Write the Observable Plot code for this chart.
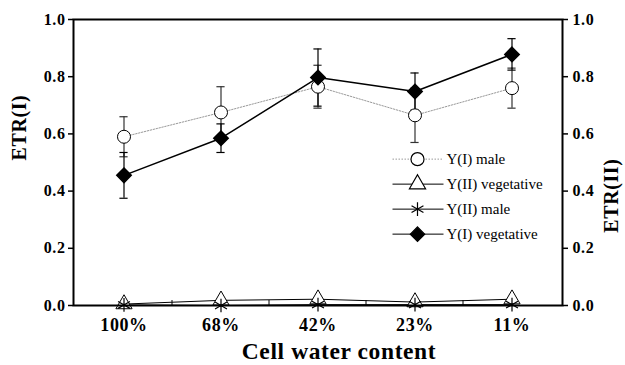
<!DOCTYPE html>
<html><head><meta charset="utf-8">
<script src="https://cdn.jsdelivr.net/npm/d3@7"></script>
<script src="https://cdn.jsdelivr.net/npm/@observablehq/plot@0.6"></script>
<style>body{margin:0;background:#fff}</style>
</head><body><div id="chart"></div>
<script>
const categories = ["100%", "68%", "42%", "23%", "11%"];
const yIMale = [0.59, 0.675, 0.765, 0.665, 0.76];
const yIMaleErr = [0.07, 0.09, 0.075, 0.095, 0.07];
const yIVeg = [0.455, 0.585, 0.797, 0.748, 0.878];
const yIVegErr = [0.08, 0.05, 0.10, 0.065, 0.055];
const yIIVeg = [0.005, 0.018, 0.022, 0.012, 0.022];
const yIIMale = [0.002, 0.0, 0.003, 0.003, 0.003];
const yTicks = [0, 0.2, 0.4, 0.6, 0.8, 1.0];
const legendNames = ["Y(I) male", "Y(II) vegetative", "Y(II) male", "Y(I) vegetative"];

const rows = (vals, errs) => categories.map((c, i) => ({cat: c, y: vals[i], err: errs ? errs[i] : 0}));
const male = rows(yIMale, yIMaleErr);
const veg = rows(yIVeg, yIVegErr);
const iiVeg = rows(yIIVeg);
const iiMale = rows(yIIMale);

const font = "'Liberation Serif', 'Times New Roman', Times, serif";
const capInset = 44.4;
const errMarks = (data, stroke) => [
  Plot.ruleX(data, {x: "cat", y1: d => d.y - d.err, y2: d => d.y + d.err, stroke, strokeWidth: 1.2}),
  Plot.tickY(data, {x: "cat", y: d => d.y + d.err, stroke, strokeWidth: 1.2, insetLeft: capInset, insetRight: capInset}),
  Plot.tickY(data, {x: "cat", y: d => d.y - d.err, stroke, strokeWidth: 1.2, insetLeft: capInset, insetRight: capInset})
];
const tf = {fontFamily: font, fontWeight: "bold"};

const plot = Plot.plot({
  width: 625,
  height: 365,
  marginLeft: 73,
  marginRight: 63,
  marginTop: 19,
  marginBottom: 60,
  style: {fontFamily: font, background: "#fff", color: "#000"},
  x: {type: "band", domain: categories, padding: 0},
  y: {domain: [0, 1]},
  marks: [
    ...errMarks(male, "#333"),
    ...errMarks(veg, "#000"),
    Plot.line(male, {x: "cat", y: "y", stroke: "#999", strokeWidth: 1, strokeDasharray: "1.5,1.5"}),
    Plot.line(veg, {x: "cat", y: "y", stroke: "#000", strokeWidth: 1.5}),
    Plot.line(iiVeg, {x: "cat", y: "y", stroke: "#000", strokeWidth: 1}),
    Plot.line(iiMale, {x: "cat", y: "y", stroke: "#000", strokeWidth: 1}),
    Plot.dot(iiVeg, {x: "cat", y: "y", symbol: "triangle", r: 6, fill: "#fff", stroke: "#000", strokeWidth: 1}),
    Plot.dot(iiMale, {x: "cat", y: "y", symbol: "asterisk", r: 6.5, stroke: "#000", strokeWidth: 1.2}),
    Plot.dot(male, {x: "cat", y: "y", symbol: "circle", r: 6.5, fill: "#fff", stroke: "#000", strokeWidth: 1}),
    Plot.dot(veg, {x: "cat", y: "y", symbol: "diamond2", r: 6.5, fill: "#000", stroke: "#000"}),
    Plot.frame({stroke: "#000", strokeWidth: 2}),
    Plot.axisY({anchor: "left", ticks: yTicks, tickFormat: ".1f", tickSize: 5, tickPadding: 3, label: null, fontSize: 16, ...tf, strokeWidth: 1.5}),
    Plot.axisY({anchor: "right", ticks: yTicks, tickFormat: ".1f", tickSize: 5, tickPadding: 5, label: null, fontSize: 16, ...tf, strokeWidth: 1.5}),
    Plot.axisX({tickSize: 0, tickPadding: 13, label: null, fontSize: 18, ...tf}),
    Plot.text(["Cell water content"], {frameAnchor: "bottom", dx: 21, dy: 45.5, lineAnchor: "middle", fontSize: 23.5, ...tf}),
    Plot.text(["ETR(I)"], {frameAnchor: "left", dx: -54, dy: -2, rotate: -90, lineAnchor: "middle", fontSize: 20, ...tf}),
    Plot.text(["ETR(II)"], {frameAnchor: "right", dx: 49, dy: -4, rotate: -90, lineAnchor: "middle", fontSize: 20, ...tf})
  ]
});
document.getElementById("chart").appendChild(plot);

const xs = plot.scale("x");
const ys = plot.scale("y");
const bw = xs.bandwidth;
const svg = d3.select(plot);
svg.selectAll("text").style("font-family", font).style("letter-spacing", "0.6px");
const y0 = ys.apply(0);
// inner band-boundary ticks on the x axis, derived from the x scale
svg.append("g").selectAll("line").data(categories.slice(1)).join("line")
  .attr("x1", d => xs.apply(d)).attr("x2", d => xs.apply(d))
  .attr("y1", y0).attr("y2", y0 - 5).attr("stroke", "#000").attr("stroke-width", 1);

// legend inside the plot area
const legendStyles = [
  {symbol: d3.symbolCircle, r: 6.5, fill: "#fff", stroke: "#999", dash: "1.5,1.5"},
  {symbol: d3.symbolTriangle, r: 6, fill: "#fff", stroke: "#000", dash: null},
  {symbol: d3.symbolAsterisk, r: 6.5, fill: "none", stroke: "#000", dash: null},
  {symbol: d3.symbolDiamond2, r: 6.5, fill: "#000", stroke: "#000", dash: null}
];
const lx = xs.apply(categories[3]) + bw / 2 - 22, ly = ys.apply(0.51), lstep = 25;
const lg = svg.append("g").attr("font-size", 15).attr("text-anchor", "start");
legendNames.forEach((name, i) => {
  const s = legendStyles[i];
  const g = lg.append("g").attr("transform", `translate(${lx},${ly + i * lstep})`);
  g.append("line").attr("x1", 0).attr("x2", 51).attr("stroke", s.stroke).attr("stroke-width", 1)
    .attr("stroke-dasharray", s.dash);
  g.append("path").attr("transform", "translate(25,0)")
    .attr("d", d3.symbol(s.symbol, Math.PI * s.r * s.r)())
    .attr("fill", s.fill).attr("stroke", "#000").attr("stroke-width", 1.2);
  g.append("text").attr("x", 54).attr("dy", "0.35em").style("font-family", font).text(name);
});
</script>
</body></html>
